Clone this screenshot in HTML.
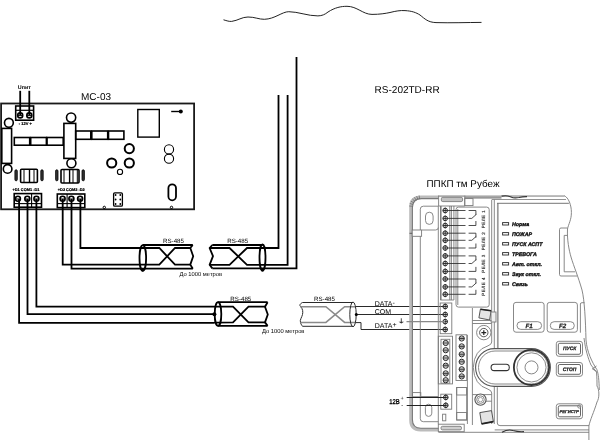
<!DOCTYPE html>
<html><head><meta charset="utf-8">
<style>
html,body{margin:0;padding:0;background:#fff;}
svg{display:block;will-change:transform;}
text{font-family:"Liberation Sans",sans-serif;text-rendering:geometricPrecision;}
</style></head>
<body>
<svg width="600" height="440" viewBox="0 0 600 440">
<rect x="0" y="0" width="600" height="440" fill="#fff"/>
<!-- top wave -->
<path d="M223.5,19.8 C227,20.8 229,21.6 231.7,21.4 C238,20.5 242,17 248,17 C255,17 259,19.4 264.3,19.3 C275,19 282,11.7 288.8,11.7 C298,11.7 308,16 317.9,15.9 C322,15.8 325,14.5 328,12 C335,7.5 341,6.3 347,6.3 C357,6.3 363,14.4 372,14.4 C380,14.4 385,13.5 390,12.5 C396,11 400,10.3 405,10.6 C412,11 416,12.5 420,15 C425,19 428,22.3 436,22.6 C450,23 468,22.5 481.5,22.4" fill="none" stroke="#222" stroke-width="1"/>

<!-- MC-03 board -->
<g fill="none" stroke="#000" stroke-width="1.6">
<rect x="1.1" y="103.5" width="193" height="105.8" stroke-width="1.8" stroke="#1a1a1a"/>
<!-- 12V terminal -->
<rect x="15.7" y="106" width="17.9" height="14.2"/>
<line x1="15.7" y1="110.3" x2="33.6" y2="110.3" stroke-width="1.2"/>
<circle cx="20.2" cy="115.4" r="2.5"/>
<circle cx="29.3" cy="115.4" r="2.5"/>
<line x1="20.2" y1="90.8" x2="20.2" y2="115" stroke-width="1.8"/>
<line x1="29.3" y1="90.8" x2="29.3" y2="115" stroke-width="1.8"/>
<!-- left column -->
<rect x="1.8" y="128.4" width="9.8" height="35"/>
<circle cx="8.9" cy="122.8" r="4.4"/>
<circle cx="7.6" cy="168.9" r="4.3"/>
<rect x="14.3" y="137.5" width="15.4" height="7.7"/>
<rect x="30.7" y="137.5" width="15.7" height="7.7"/>
<rect x="47" y="137.5" width="16.2" height="7.7"/>
<rect x="63.9" y="123.4" width="11.8" height="35"/>
<circle cx="71.1" cy="117.6" r="4.6"/>
<circle cx="71.4" cy="163.2" r="4.5"/>
<rect x="75.7" y="131" width="15.1" height="8.3"/>
<rect x="91.8" y="131" width="15.9" height="8.3"/>
<rect x="108.5" y="131" width="15.4" height="8.3"/>
<rect x="137.8" y="109.5" width="21.5" height="27.6" stroke-width="1.4"/>
<line x1="171.2" y1="111.5" x2="180" y2="111.5" stroke-width="1.4"/>
<circle cx="129.3" cy="148.6" r="4.6" stroke-width="2"/>
<circle cx="111.7" cy="163" r="4.6" stroke-width="2"/>
<circle cx="129.3" cy="163" r="4.6" stroke-width="2"/>
<circle cx="120" cy="171.9" r="2.6" stroke-width="1.1"/>
<circle cx="169" cy="149.4" r="4.6" stroke-width="1.1"/>
<circle cx="169" cy="158.7" r="4.6" stroke-width="1.1"/>
<rect x="168.4" y="184.3" width="7.6" height="16" rx="3.8" stroke-width="1.8"/>
<rect x="113.6" y="192.9" width="8.8" height="13.2" rx="1.2" stroke-width="1.3"/>
<!-- D1 components -->
<rect x="14.9" y="169.8" width="2.4" height="11" rx="1.2" fill="#333" stroke-width="0.8"/>
<rect x="20.6" y="169.3" width="16.8" height="13.2" rx="1"/>
<line x1="24" y1="169.5" x2="24" y2="182.5" stroke-width="1"/>
<line x1="29.5" y1="169.5" x2="29.5" y2="182.5" stroke-width="1.4"/>
<line x1="34" y1="169.5" x2="34" y2="182.5" stroke-width="1"/>
<rect x="40.8" y="169.8" width="2.4" height="11" rx="1.2" fill="#333" stroke-width="0.8"/>
<!-- D2 components -->
<rect x="55.6" y="169.8" width="2.4" height="11" rx="1.2" fill="#333" stroke-width="0.8"/>
<rect x="61" y="169.5" width="18" height="13.5" rx="1"/>
<line x1="64" y1="169.5" x2="64" y2="183" stroke-width="1"/>
<line x1="69.6" y1="169.5" x2="69.6" y2="183" stroke-width="1.4"/>
<line x1="73" y1="169.5" x2="73" y2="183" stroke-width="1"/>
<line x1="77.3" y1="169.5" x2="77.3" y2="183" stroke-width="1"/>
<rect x="82" y="169.8" width="2.4" height="11" rx="1.2" fill="#333" stroke-width="0.8"/>
<!-- terminal blocks -->
<rect x="14.2" y="193.6" width="27.3" height="13.6"/>
<line x1="14.2" y1="203.6" x2="41.5" y2="203.6" stroke-width="1.1"/>
<line x1="31.6" y1="193.6" x2="31.6" y2="207" stroke-width="1.1"/>
<circle cx="17.9" cy="198.8" r="2.5"/>
<circle cx="27.3" cy="198.8" r="2.5"/>
<circle cx="36.4" cy="198.8" r="2.5"/>
<rect x="57.3" y="194" width="27.5" height="13.6"/>
<line x1="57.3" y1="203.6" x2="84.8" y2="203.6" stroke-width="1.1"/>
<line x1="67.1" y1="194" x2="67.1" y2="207.6" stroke-width="1.1"/>
<circle cx="62.6" cy="198.8" r="2.5"/>
<circle cx="71.4" cy="198.8" r="2.5"/>
<circle cx="80.1" cy="198.8" r="2.5"/>
</g>
<g stroke="#000" stroke-width="1">
<line x1="18" y1="115.6" x2="22.4" y2="115.6"/><line x1="27.1" y1="115.6" x2="31.5" y2="115.6"/>
<line x1="15.6" y1="199" x2="20.2" y2="199"/><line x1="25" y1="199" x2="29.6" y2="199"/><line x1="34.1" y1="199" x2="38.7" y2="199"/>
<line x1="60.3" y1="199" x2="64.9" y2="199"/><line x1="69.1" y1="199" x2="73.7" y2="199"/><line x1="77.8" y1="199" x2="82.4" y2="199"/>
</g>
<circle cx="180.8" cy="111.5" r="2" fill="#000"/>
<circle cx="104.3" cy="207.4" r="1.2" fill="none" stroke="#000" stroke-width="1"/>
<circle cx="171.5" cy="207.4" r="1.2" fill="none" stroke="#000" stroke-width="1"/>
<g fill="#000"><circle cx="115.60" cy="195.0" r="0.9"/><circle cx="115.60" cy="199.5" r="0.9"/><circle cx="115.60" cy="204.0" r="0.9"/><circle cx="120.30" cy="195.0" r="0.9"/><circle cx="120.30" cy="199.5" r="0.9"/><circle cx="120.30" cy="204.0" r="0.9"/></g>
<text x="81" y="99.8" font-size="10" fill="#000">MC-03</text>
<text x="17.8" y="89" font-size="5.4" font-weight="bold" fill="#000">Uпит</text>
<text x="18.8" y="124.6" font-size="4" font-weight="bold" fill="#000" stroke="#000" stroke-width="0.2">- 12V +</text>
<text x="12.5" y="191.2" font-size="3.9" font-weight="bold" fill="#000" stroke="#000" stroke-width="0.2">+D1 COM1 -D1</text>
<text x="57.8" y="191.4" font-size="3.9" font-weight="bold" fill="#000" stroke="#000" stroke-width="0.2">+D2 COM2 -D2</text>
<!-- wires and cables -->
<g fill="none" stroke="#000" stroke-width="1.8" stroke-linejoin="miter">
<!-- D1 wires -->
<polyline points="19.1,199 19.1,322.8 214,322.8"/>
<polyline points="27.5,199 27.5,314.2 214,314.2"/>
<polyline points="36.4,199 36.4,306.7 233,306.7 248.5,322.4 265,322.4"/>
<polyline points="214,322.6 233,322.4 248.5,306.7 265,306.7"/>
<!-- D2 wires -->
<polyline points="62.7,199 62.7,264.6 159.3,264.6 175,248 190.5,248"/>
<polyline points="71.5,199 71.5,268.7 192.8,268.7"/>
<polyline points="80.4,199 80.4,248 159.3,248 175,264.6 190.5,264.6"/>
<!-- cable A outline -->
<line x1="142.7" y1="245" x2="192.8" y2="245"/>
<path d="M192.7,245 L190.3,248 L193.2,256.2 L190.3,264.6 L192.8,268.7" stroke-linejoin="round"/>
<ellipse cx="142.8" cy="258" rx="3.3" ry="12.8"/>
<!-- cable B -->
<line x1="212.3" y1="245" x2="262.5" y2="245"/>
<path d="M212.3,245 L209.6,248 L213,256.2 L209.6,264.8 L212.3,268.4" stroke-linejoin="round"/>
<polyline points="209.6,248 229.5,248 247,264.8 287.6,264.8 287.6,94.9"/>
<polyline points="209.6,264.8 229.5,264.8 247,248 278.5,248 278.5,94.9"/>
<polyline points="212.3,268.4 296.5,268.4 296.5,56.9"/>
<ellipse cx="262.5" cy="257.5" rx="3" ry="13"/>
<!-- cable C -->
<line x1="217.7" y1="302.2" x2="267.6" y2="302.2"/>
<line x1="217.7" y1="325.9" x2="267.6" y2="325.9"/>
<path d="M267.6,302.2 L265,306.7 L267.8,314.5 L265,322.4 L267.6,325.9" stroke-linejoin="round"/>
<ellipse cx="218" cy="314" rx="3.3" ry="11.9"/>
</g>
<circle cx="142.5" cy="269.8" r="1.6" fill="#000"/>
<circle cx="262.5" cy="270" r="1.6" fill="#000"/>
<circle cx="214.4" cy="314.3" r="2" fill="#000"/>
<!-- cable D (thin grey) -->
<g fill="none" stroke="#2a2a2a" stroke-width="1">
<line x1="302.5" y1="302.5" x2="353" y2="302.5"/>
<line x1="302.5" y1="326.3" x2="353" y2="326.3"/>
<path d="M302.5,302.5 C299.5,304 299.5,305.5 300.5,306.5 C303,309 303,312 302.5,314.5 C302,317 299.5,320 300.5,322.6 C301,324.5 302,325.5 302.5,326.3"/>
<polyline points="356,322.6 361,322.6 361,329.5 445,329.5"/>
<line x1="356" y1="306.5" x2="445" y2="306.5"/>
<line x1="356.3" y1="314.5" x2="445" y2="314.5"/>
</g>
<g fill="none" stroke="#8a8a8a" stroke-width="1.5">
<polyline points="300.5,306.7 325.9,306.7 344.6,322.4 356,322.4"/>
<polyline points="300.5,322.4 325.9,322.4 344.6,306.7 356,306.7"/>
</g>
<ellipse cx="353" cy="314.4" rx="3.2" ry="12.4" fill="none" stroke="#2a2a2a" stroke-width="1"/>
<circle cx="356.3" cy="314.5" r="1.5" fill="#000"/>
<g font-size="6.2" fill="#000">
<text x="173.5" y="243" text-anchor="middle">RS-485</text>
<text x="237.7" y="243" text-anchor="middle">RS-485</text>
<text x="240.8" y="300.6" text-anchor="middle">RS-485</text>
<text x="324.5" y="300.6" text-anchor="middle">RS-485</text>
</g>
<g font-size="5.8" fill="#000">
<text x="200.8" y="276" text-anchor="middle">До 1000 метров</text>
<text x="283.2" y="332.8" text-anchor="middle">До 1000 метров</text>
</g>
<g font-size="7" fill="#000">
<text x="374.8" y="305.9">DATA<tspan dy="-1.2">-</tspan></text>
<text x="374.8" y="313.7">COM</text>
<text x="374.8" y="328.2">DATA<tspan dy="-0.8">+</tspan></text>
</g>
<!-- device -->
<defs><linearGradient id="hb" x1="0" y1="0" x2="1" y2="0"><stop offset="0" stop-color="#c4c4c4"/><stop offset="1" stop-color="#7c7c7c"/></linearGradient>
<linearGradient id="vb" x1="0" y1="0" x2="0" y2="1"><stop offset="0" stop-color="#b8b8b8"/><stop offset="1" stop-color="#888"/></linearGradient></defs>
<path d="M438.5,197.1 L421,197.1 Q410.9,197.1 410.9,207.2 L410.9,420 Q410.9,429.7 420.6,429.7 L438.5,429.7" fill="none" stroke="#bcbcbc" stroke-width="3.4"/>
<path d="M438.5,198.6 L421.5,198.6 Q412.4,198.6 412.4,207.8 L412.4,419.5 Q412.4,428.2 421,428.2 L438.5,428.2" fill="none" stroke="#7a7a7a" stroke-width="1.1"/>
<path d="M412.8,206.3 L409.2,206.0 M413.2,204.6 L409.7,203.4 M414.0,203.0 L410.8,201.1 M415.1,201.6 L412.4,199.0 M416.4,200.4 L414.3,197.3 M418.0,199.6 L416.6,196.1 M419.7,199.1 L419.1,195.4" stroke="#666" stroke-width="0.7"/>
<rect x="464.5" y="195.3" width="37" height="3.3" fill="url(#vb)"/>
<rect x="501.5" y="195.3" width="63" height="1.5" fill="#a5a5a5"/>
<rect x="438.5" y="195.4" width="26" height="1.4" fill="#999"/>
<g fill="none" stroke="#7a7a7a" stroke-width="0.9">
<path d="M501.5,196.2 Q507,195 511,197 Q514,198.5 519,197.5 Q523,196.5 527,196.6" stroke="#333" stroke-width="1.2"/>
<line x1="492" y1="199.5" x2="566" y2="199.5" stroke="#888"/>
<path d="M438.6,195.5 L438.6,206 L464.8,206 L464.8,195.5"/>
<rect x="441.3" y="197.3" width="21.3" height="4.3" rx="1.5" fill="#c2c2c2"/>
<rect x="464.7" y="198.6" width="8.3" height="7" />
<path d="M438.3,206.2 L423.3,206.2 Q420.3,206.2 420.3,209.2 L420.3,395.8"/>
<path d="M421.8,230 L435.5,230 Q438.3,230 438.3,227.5"/>
<rect x="425.5" y="212.2" width="7.6" height="12.2" rx="3.8"/>
<rect x="412.2" y="230" width="9.4" height="6.3" fill="#fff"/>
<path d="M409.5,233.3 L412.2,233.3" stroke="#555"/>
<path d="M420.3,395.8 L420.3,418.7 Q420.3,421.7 423.3,421.7 L438.3,421.7"/>
<line x1="420.3" y1="396.5" x2="438.3" y2="396.5"/>
<rect x="425.4" y="404.2" width="6.4" height="12.2" rx="3.2"/>
<rect x="412.5" y="392.6" width="8.3" height="4.2"/>
<line x1="438.3" y1="206" x2="438.3" y2="424"/>
<line x1="440.8" y1="206" x2="440.8" y2="300" stroke-width="1.5" stroke="#777"/>
<line x1="449.8" y1="206" x2="449.8" y2="300" stroke-width="0.8" stroke="#666"/>
<line x1="451.4" y1="206" x2="451.4" y2="300" stroke-width="0.8" stroke="#666"/>
<line x1="453.9" y1="206" x2="453.9" y2="300" stroke-width="0.8" stroke="#666"/>
<line x1="440.3" y1="300" x2="453.9" y2="300"/>
<path d="M456,300 L456,209.6 Q456,207.1 458.5,207.1 L486.7,207.1 Q489.2,207.1 489.2,209.6 L489.2,304.6 Q489.2,307.1 486.7,307.1 L458.5,307.1 Q456,307.1 456,304.6 Z"/>
<line x1="457.8" y1="209" x2="457.8" y2="305"/>
<path d="M491.7,199.6 L491.7,342 Q491.7,344.5 488,345.8 Q474,350 473.3,367.5 Q474,385 488,389.2 Q491.7,390.5 491.7,393 L491.7,424"/>
<line x1="494.3" y1="199.6" x2="494.3" y2="349"/>
<line x1="494.3" y1="386" x2="494.3" y2="424"/>
<line x1="472.4" y1="308" x2="472.4" y2="425"/>
<path d="M472.4,394.6 L491.7,394.6 M476,401.2 L491.7,401.2"/>
<line x1="467.4" y1="335" x2="467.4" y2="424"/>
<path d="M497.8,349 L497.8,203.3" stroke-width="1.7" stroke="#9a9a9a"/>
<line x1="497" y1="203.3" x2="568.9" y2="203.3" stroke="#666"/>
<path d="M564.2,195.7 C568.5,197.5 571.4,205 571.4,212.5 C571.4,220 568.5,224 567.5,229 C567,240 569,250 571,257 C574,267 578,276 582,290 C584.5,300 585.5,320 586,340 C587,352 592,362 596.8,369.5 C598.5,374 599,380 599.3,390"/>
<path d="M584,338 C585.5,350 588,358 591,365 L596.5,372 C597,378 597,382 597,386 C599.5,390 599.5,398 597,402 C594,412 590,420 588.9,426 L588.9,440"/>
<path d="M596.5,366 L592.3,368.8 L596.5,371.5"/>
<path d="M567.5,228 L561,228 Q559.5,228 559.5,229.5 L559.5,274.5 Q559.5,276 561,276 L577,276"/>
<path d="M567,235.4 L564.2,235.4 L564.2,271.8 L575,271.8"/>
<path d="M580.4,332.7 L580.4,304 Q580.4,302.7 582,302.7 L584.5,302.7"/>
<path d="M497.3,387.2 L497.3,423 Q497.3,425.6 500,425.6 L589,425.6"/>
<line x1="494.7" y1="429.9" x2="589" y2="429.9"/>
<line x1="438.5" y1="432.3" x2="589" y2="432.3"/>
<path d="M502,432.3 Q508,428.8 513,430.5 Q518,432 524,431.6" stroke="#333" stroke-width="1.1"/>
<rect x="438.3" y="424.2" width="25.9" height="7.5"/>
<rect x="441" y="426.3" width="20.5" height="3.6" rx="1.5" fill="#cfcfcf"/>
<rect x="440.2" y="303" width="11.6" height="30.7"/>
<rect x="438.3" y="336.2" width="14.2" height="47.7"/>
<rect x="441" y="339.3" width="8.8" height="43.9"/>
<rect x="456" y="334.8" width="10.8" height="45.7"/>
<rect x="440.8" y="394.2" width="10.9" height="15"/>
<rect x="456.7" y="387.5" width="10" height="32.5"/>
<rect x="456.7" y="387.5" width="10" height="7.5"/>
<rect x="456.7" y="412.5" width="10" height="7.5"/>
<rect x="442.6" y="414.2" width="3.2" height="6.6"/>
<circle cx="483.8" cy="332.6" r="7.2"/>
<circle cx="483.8" cy="332.6" r="4.2" stroke="#444"/>
<circle cx="480.5" cy="399.6" r="5.6" fill="#fff" stroke="#555" stroke-width="1.1"/>
<circle cx="480.5" cy="399.6" r="3.8" stroke="#777"/>
<circle cx="480.5" cy="399.6" r="2.2" stroke="#999"/>
<path d="M494.5,348.6 L531.5,348.6 A18.9,18.9 0 0 1 531.5,386.4 L494.5,386.4 A18.9,18.9 0 0 1 494.5,348.6 Z" stroke="#555" stroke-width="1.1"/>
<path d="M495,351 L531.5,351 A16.5,16.5 0 0 1 531.5,384 L495,384 A16.5,16.5 0 0 1 495,351 Z"/>
<rect x="491.1" y="364.3" width="18.2" height="6.3" rx="3.15" stroke="#333" stroke-width="1.1"/>
<circle cx="531.5" cy="367.4" r="14.6"/>
<circle cx="531.5" cy="367.4" r="6.5"/>
<rect x="513.5" y="302.4" width="30.6" height="29.8" rx="2.5"/>
<rect x="517" y="321.7" width="24.6" height="7.7" rx="3.8"/>
<rect x="547.2" y="302.4" width="30.2" height="29.8" rx="2.5"/>
<rect x="550.3" y="321.7" width="24" height="7.7" rx="3.8"/>
<rect x="556.3" y="341.3" width="26.2" height="15.0" rx="2.5"/>
<rect x="558.3" y="343.3" width="22.2" height="11.0" rx="1.5" stroke="#555"/>
<rect x="556.3" y="362.5" width="26.2" height="13.8" rx="2.5"/>
<rect x="558.3" y="364.5" width="22.2" height="9.8" rx="1.5" stroke="#555"/>
<rect x="556.3" y="403.8" width="26.2" height="15.0" rx="2.5"/>
<rect x="558.3" y="405.8" width="22.2" height="11.0" rx="1.5" stroke="#555"/>
<circle cx="579.3" cy="406.5" r="1.6"/>
<path d="M480.4,309.2 L491.1,310.7 L489.6,320 L478.9,317.9 Z" fill="#e4e4e4" stroke="#444"/>
<path d="M480.4,309.2 L491.1,310.7" stroke="#222" stroke-width="1.6"/>
<rect x="491" y="312" width="5" height="10" fill="#f0f0f0"/>
<path d="M472.4,320.5 L491.5,320.5 M472.4,323.5 L491.5,323.5"/>
<path d="M479.8,412.6 L491.5,410.6 L493.4,421.6 L481.6,423.9 Z" fill="#e4e4e4" stroke="#444"/>
<path d="M481.6,423.9 L493.4,421.6" stroke="#222" stroke-width="1.6"/>
</g>
<circle cx="531.5" cy="367.4" r="17.6" fill="none" stroke="#333" stroke-width="1.8"/>
<g fill="none" stroke="#222" stroke-width="0.8">
<line x1="445" y1="210.5" x2="465.5" y2="210.5"/>
<line x1="445" y1="218.4" x2="465.5" y2="218.4"/>
<line x1="445" y1="225.5" x2="465.5" y2="225.5"/>
<polyline points="468.6,210.5 475.9,210.5 475.9,215.0"/>
<polyline points="468.6,218.4 471.8,218.4 476.3,214.4"/>
<polyline points="468.6,225.5 475.9,225.5 475.9,221.0"/>
<line x1="445" y1="233.2" x2="465.5" y2="233.2"/>
<line x1="445" y1="240.3" x2="465.5" y2="240.3"/>
<line x1="445" y1="248.0" x2="465.5" y2="248.0"/>
<polyline points="468.6,233.2 475.9,233.2 475.9,237.7"/>
<polyline points="468.6,240.3 471.8,240.3 476.3,236.3"/>
<polyline points="468.6,248.0 475.9,248.0 475.9,243.5"/>
<line x1="445" y1="255.9" x2="465.5" y2="255.9"/>
<line x1="445" y1="263.5" x2="465.5" y2="263.5"/>
<line x1="445" y1="271.4" x2="465.5" y2="271.4"/>
<polyline points="468.6,255.9 475.9,255.9 475.9,260.4"/>
<polyline points="468.6,263.5 471.8,263.5 476.3,259.5"/>
<polyline points="468.6,271.4 475.9,271.4 475.9,266.9"/>
<line x1="445" y1="279.0" x2="465.5" y2="279.0"/>
<line x1="445" y1="286.9" x2="465.5" y2="286.9"/>
<line x1="445" y1="294.3" x2="465.5" y2="294.3"/>
<polyline points="468.6,279.0 475.9,279.0 475.9,283.5"/>
<polyline points="468.6,286.9 471.8,286.9 476.3,282.9"/>
<polyline points="468.6,294.3 475.9,294.3 475.9,289.8"/>
</g>
<circle cx="445.2" cy="210.5" r="2.3" fill="#fff" stroke="#222" stroke-width="1"/><line x1="442.9" y1="210.5" x2="447.5" y2="210.5" stroke="#222" stroke-width="0.9"/><line x1="445.2" y1="207.6" x2="445.2" y2="213.4" stroke="#222" stroke-width="0.9"/>
<circle cx="445.2" cy="218.4" r="2.3" fill="#fff" stroke="#222" stroke-width="1"/><line x1="442.9" y1="218.4" x2="447.5" y2="218.4" stroke="#222" stroke-width="0.9"/><line x1="445.2" y1="215.5" x2="445.2" y2="221.3" stroke="#222" stroke-width="0.9"/>
<circle cx="445.2" cy="225.5" r="2.3" fill="#fff" stroke="#222" stroke-width="1"/><line x1="442.9" y1="225.5" x2="447.5" y2="225.5" stroke="#222" stroke-width="0.9"/><line x1="445.2" y1="222.6" x2="445.2" y2="228.4" stroke="#222" stroke-width="0.9"/>
<circle cx="445.2" cy="233.2" r="2.3" fill="#fff" stroke="#222" stroke-width="1"/><line x1="442.9" y1="233.2" x2="447.5" y2="233.2" stroke="#222" stroke-width="0.9"/><line x1="445.2" y1="230.3" x2="445.2" y2="236.1" stroke="#222" stroke-width="0.9"/>
<circle cx="445.2" cy="240.3" r="2.3" fill="#fff" stroke="#222" stroke-width="1"/><line x1="442.9" y1="240.3" x2="447.5" y2="240.3" stroke="#222" stroke-width="0.9"/><line x1="445.2" y1="237.4" x2="445.2" y2="243.2" stroke="#222" stroke-width="0.9"/>
<circle cx="445.2" cy="248.0" r="2.3" fill="#fff" stroke="#222" stroke-width="1"/><line x1="442.9" y1="248.0" x2="447.5" y2="248.0" stroke="#222" stroke-width="0.9"/><line x1="445.2" y1="245.1" x2="445.2" y2="250.9" stroke="#222" stroke-width="0.9"/>
<circle cx="445.2" cy="255.9" r="2.3" fill="#fff" stroke="#222" stroke-width="1"/><line x1="442.9" y1="255.9" x2="447.5" y2="255.9" stroke="#222" stroke-width="0.9"/><line x1="445.2" y1="253.0" x2="445.2" y2="258.8" stroke="#222" stroke-width="0.9"/>
<circle cx="445.2" cy="263.5" r="2.3" fill="#fff" stroke="#222" stroke-width="1"/><line x1="442.9" y1="263.5" x2="447.5" y2="263.5" stroke="#222" stroke-width="0.9"/><line x1="445.2" y1="260.6" x2="445.2" y2="266.4" stroke="#222" stroke-width="0.9"/>
<circle cx="445.2" cy="271.4" r="2.3" fill="#fff" stroke="#222" stroke-width="1"/><line x1="442.9" y1="271.4" x2="447.5" y2="271.4" stroke="#222" stroke-width="0.9"/><line x1="445.2" y1="268.5" x2="445.2" y2="274.3" stroke="#222" stroke-width="0.9"/>
<circle cx="445.2" cy="279.0" r="2.3" fill="#fff" stroke="#222" stroke-width="1"/><line x1="442.9" y1="279.0" x2="447.5" y2="279.0" stroke="#222" stroke-width="0.9"/><line x1="445.2" y1="276.1" x2="445.2" y2="281.9" stroke="#222" stroke-width="0.9"/>
<circle cx="445.2" cy="286.9" r="2.3" fill="#fff" stroke="#222" stroke-width="1"/><line x1="442.9" y1="286.9" x2="447.5" y2="286.9" stroke="#222" stroke-width="0.9"/><line x1="445.2" y1="284.0" x2="445.2" y2="289.8" stroke="#222" stroke-width="0.9"/>
<circle cx="445.2" cy="294.3" r="2.3" fill="#fff" stroke="#222" stroke-width="1"/><line x1="442.9" y1="294.3" x2="447.5" y2="294.3" stroke="#222" stroke-width="0.9"/><line x1="445.2" y1="291.4" x2="445.2" y2="297.2" stroke="#222" stroke-width="0.9"/>
<circle cx="445.2" cy="306.5" r="2.3" fill="#fff" stroke="#222" stroke-width="1"/><line x1="442.9" y1="306.5" x2="447.5" y2="306.5" stroke="#222" stroke-width="0.9"/><line x1="445.2" y1="303.6" x2="445.2" y2="309.4" stroke="#222" stroke-width="0.9"/>
<circle cx="445.2" cy="314.5" r="2.3" fill="#fff" stroke="#222" stroke-width="1"/><line x1="442.9" y1="314.5" x2="447.5" y2="314.5" stroke="#222" stroke-width="0.9"/><line x1="445.2" y1="311.6" x2="445.2" y2="317.4" stroke="#222" stroke-width="0.9"/>
<circle cx="445.2" cy="321.6" r="2.3" fill="#fff" stroke="#222" stroke-width="1"/><line x1="442.9" y1="321.6" x2="447.5" y2="321.6" stroke="#222" stroke-width="0.9"/><line x1="445.2" y1="318.7" x2="445.2" y2="324.5" stroke="#222" stroke-width="0.9"/>
<circle cx="445.2" cy="329.5" r="2.3" fill="#fff" stroke="#222" stroke-width="1"/><line x1="442.9" y1="329.5" x2="447.5" y2="329.5" stroke="#222" stroke-width="0.9"/><line x1="445.2" y1="326.6" x2="445.2" y2="332.4" stroke="#222" stroke-width="0.9"/>
<circle cx="445.7" cy="343.0" r="2.6" fill="#fff" stroke="#222" stroke-width="1"/><line x1="443.1" y1="343.0" x2="448.3" y2="343.0" stroke="#222" stroke-width="0.9"/><line x1="443.1" y1="344.1" x2="448.3" y2="344.1" stroke="#555" stroke-width="0.6"/><line x1="443.1" y1="341.9" x2="448.3" y2="341.9" stroke="#555" stroke-width="0.6"/>
<circle cx="445.7" cy="350.2" r="2.6" fill="#fff" stroke="#222" stroke-width="1"/><line x1="443.1" y1="350.2" x2="448.3" y2="350.2" stroke="#222" stroke-width="0.9"/><line x1="443.1" y1="351.3" x2="448.3" y2="351.3" stroke="#555" stroke-width="0.6"/><line x1="443.1" y1="349.1" x2="448.3" y2="349.1" stroke="#555" stroke-width="0.6"/>
<circle cx="445.7" cy="358.0" r="2.6" fill="#fff" stroke="#222" stroke-width="1"/><line x1="443.1" y1="358.0" x2="448.3" y2="358.0" stroke="#222" stroke-width="0.9"/><line x1="443.1" y1="359.1" x2="448.3" y2="359.1" stroke="#555" stroke-width="0.6"/><line x1="443.1" y1="356.9" x2="448.3" y2="356.9" stroke="#555" stroke-width="0.6"/>
<circle cx="445.7" cy="365.7" r="2.6" fill="#fff" stroke="#222" stroke-width="1"/><line x1="443.1" y1="365.7" x2="448.3" y2="365.7" stroke="#222" stroke-width="0.9"/><line x1="443.1" y1="366.8" x2="448.3" y2="366.8" stroke="#555" stroke-width="0.6"/><line x1="443.1" y1="364.6" x2="448.3" y2="364.6" stroke="#555" stroke-width="0.6"/>
<circle cx="445.7" cy="373.4" r="2.6" fill="#fff" stroke="#222" stroke-width="1"/><line x1="443.1" y1="373.4" x2="448.3" y2="373.4" stroke="#222" stroke-width="0.9"/><line x1="443.1" y1="374.5" x2="448.3" y2="374.5" stroke="#555" stroke-width="0.6"/><line x1="443.1" y1="372.3" x2="448.3" y2="372.3" stroke="#555" stroke-width="0.6"/>
<circle cx="445.7" cy="380.2" r="2.6" fill="#fff" stroke="#222" stroke-width="1"/><line x1="443.1" y1="380.2" x2="448.3" y2="380.2" stroke="#222" stroke-width="0.9"/><line x1="443.1" y1="381.3" x2="448.3" y2="381.3" stroke="#555" stroke-width="0.6"/><line x1="443.1" y1="379.1" x2="448.3" y2="379.1" stroke="#555" stroke-width="0.6"/>
<circle cx="461.7" cy="338.5" r="2.6" fill="#fff" stroke="#222" stroke-width="1"/><line x1="459.1" y1="338.5" x2="464.3" y2="338.5" stroke="#222" stroke-width="0.9"/><line x1="459.1" y1="339.6" x2="464.3" y2="339.6" stroke="#555" stroke-width="0.6"/><line x1="459.1" y1="337.4" x2="464.3" y2="337.4" stroke="#555" stroke-width="0.6"/>
<circle cx="461.7" cy="346.4" r="2.6" fill="#fff" stroke="#222" stroke-width="1"/><line x1="459.1" y1="346.4" x2="464.3" y2="346.4" stroke="#222" stroke-width="0.9"/><line x1="459.1" y1="347.5" x2="464.3" y2="347.5" stroke="#555" stroke-width="0.6"/><line x1="459.1" y1="345.3" x2="464.3" y2="345.3" stroke="#555" stroke-width="0.6"/>
<circle cx="461.7" cy="354.3" r="2.6" fill="#fff" stroke="#222" stroke-width="1"/><line x1="459.1" y1="354.3" x2="464.3" y2="354.3" stroke="#222" stroke-width="0.9"/><line x1="459.1" y1="355.4" x2="464.3" y2="355.4" stroke="#555" stroke-width="0.6"/><line x1="459.1" y1="353.2" x2="464.3" y2="353.2" stroke="#555" stroke-width="0.6"/>
<circle cx="461.7" cy="361.8" r="2.6" fill="#fff" stroke="#222" stroke-width="1"/><line x1="459.1" y1="361.8" x2="464.3" y2="361.8" stroke="#222" stroke-width="0.9"/><line x1="459.1" y1="362.9" x2="464.3" y2="362.9" stroke="#555" stroke-width="0.6"/><line x1="459.1" y1="360.7" x2="464.3" y2="360.7" stroke="#555" stroke-width="0.6"/>
<circle cx="461.7" cy="369.3" r="2.6" fill="#fff" stroke="#222" stroke-width="1"/><line x1="459.1" y1="369.3" x2="464.3" y2="369.3" stroke="#222" stroke-width="0.9"/><line x1="459.1" y1="370.4" x2="464.3" y2="370.4" stroke="#555" stroke-width="0.6"/><line x1="459.1" y1="368.2" x2="464.3" y2="368.2" stroke="#555" stroke-width="0.6"/>
<circle cx="461.7" cy="376.4" r="2.6" fill="#fff" stroke="#222" stroke-width="1"/><line x1="459.1" y1="376.4" x2="464.3" y2="376.4" stroke="#222" stroke-width="0.9"/><line x1="459.1" y1="377.5" x2="464.3" y2="377.5" stroke="#555" stroke-width="0.6"/><line x1="459.1" y1="375.3" x2="464.3" y2="375.3" stroke="#555" stroke-width="0.6"/>
<circle cx="445.8" cy="397.4" r="2.3" fill="#fff" stroke="#222" stroke-width="1"/><line x1="443.5" y1="397.4" x2="448.1" y2="397.4" stroke="#222" stroke-width="0.9"/><line x1="445.8" y1="394.5" x2="445.8" y2="400.3" stroke="#222" stroke-width="0.9"/>
<circle cx="445.8" cy="405.3" r="2.3" fill="#fff" stroke="#222" stroke-width="1"/><line x1="443.5" y1="405.3" x2="448.1" y2="405.3" stroke="#222" stroke-width="0.9"/><line x1="445.8" y1="402.4" x2="445.8" y2="408.2" stroke="#222" stroke-width="0.9"/>
<path d="M481.4,332.6 h4.8 M483.8,330.2 v4.8" stroke="#222" stroke-width="1.2"/>
<g fill="none" stroke="#333" stroke-width="0.95">
<rect x="502.6" y="222.6" width="6" height="2.4"/>
<rect x="502.6" y="232.6" width="6" height="2.4"/>
<rect x="502.6" y="242.6" width="6" height="2.4"/>
<rect x="502.6" y="252.6" width="6" height="2.4"/>
<rect x="502.6" y="262.6" width="6" height="2.4"/>
<rect x="502.6" y="272.6" width="6" height="2.4"/>
<rect x="502.6" y="282.6" width="6" height="2.4"/>
</g>
<g font-size="5.3" font-weight="bold" font-style="italic" fill="#111" stroke="#111" stroke-width="0.35">
<text x="512" y="225.8">Норма</text>
<text x="512" y="235.8">ПОЖАР</text>
<text x="512" y="245.8">ПУСК АСПТ</text>
<text x="512" y="255.8">ТРЕВОГА</text>
<text x="512" y="265.8">Авт. откл.</text>
<text x="512" y="275.8">Звук откл.</text>
<text x="512" y="285.8">Связь</text>
</g>
<g font-size="4.5" fill="#333" stroke="#333" stroke-width="0.15" letter-spacing="0.5">
<text transform="translate(484.9,219.0) rotate(-90)" text-anchor="middle">РЕЛЕ 1</text>
<text transform="translate(484.9,241.0) rotate(-90)" text-anchor="middle">РЕЛЕ 2</text>
<text transform="translate(484.9,263.5) rotate(-90)" text-anchor="middle">РЕЛЕ 3</text>
<text transform="translate(484.9,286.3) rotate(-90)" text-anchor="middle">РЕЛЕ 4</text>
</g>
<g font-weight="bold" font-style="italic" fill="#222" stroke="#222" stroke-width="0.25" text-anchor="middle">
<text x="569.7" y="349.6" font-size="4.9">ПУСК</text>
<text x="569.5" y="371.3" font-size="4.9">СТОП</text>
<text x="569.2" y="413.3" font-size="4.2">РЕГИСТР</text>
<text x="529" y="328" font-size="6.2">F1</text>
<text x="562.6" y="328" font-size="6.2">F2</text>
</g>
<text x="426.5" y="187.2" font-size="9.9" fill="#000">ППКП тм Рубеж</text>
<text x="374.6" y="92.7" font-size="10" fill="#000">RS-202TD-RR</text>
<g fill="none" stroke="#222" stroke-width="1">
<line x1="406.7" y1="397.5" x2="445.8" y2="397.5"/>
<line x1="406.7" y1="405.5" x2="445.8" y2="405.5"/>
</g>
<text x="389.2" y="404.4" font-size="7" fill="#000" stroke="#000" stroke-width="0.3" textLength="10.5" lengthAdjust="spacingAndGlyphs">12В</text>
<text x="400.6" y="399.6" font-size="5.6" fill="#000">+</text>
<text x="401.2" y="407.4" font-size="5.6" fill="#000">-</text>
<line x1="401.3" y1="318.3" x2="401.3" y2="322" stroke="#333" stroke-width="0.9"/>
<path d="M398.6,321.8 L404,321.8 L401.3,323.6 Z" fill="#333"/>
<line x1="406.5" y1="321.6" x2="445" y2="321.6" stroke="#888" stroke-width="1.4"/>
</svg>
</body></html>
